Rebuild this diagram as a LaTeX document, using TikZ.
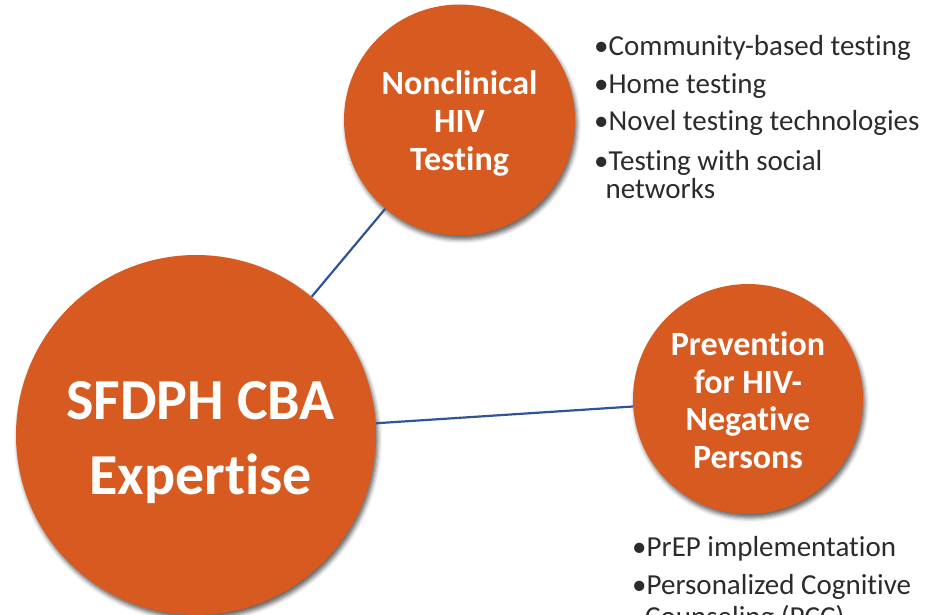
\documentclass[tikz,border=0pt]{standalone}
\usepackage{fontspec}
\setmainfont{Carlito}[Ligatures={NoCommon,NoContextual}]
\usetikzlibrary{shadows.blur}
\definecolor{hubfill}{HTML}{D75B20}
\definecolor{linkblue}{HTML}{2F5597}
\definecolor{bodytext}{HTML}{2B2B2B}
\begin{document}
\begin{tikzpicture}[x=1pt,y=-1pt,
  hub/.style={circle, fill=hubfill, inner sep=0pt,
    blur shadow={shadow xshift=2pt, shadow yshift=-4pt, shadow blur radius=4pt, shadow opacity=60}},
  hubtext/.style={anchor=north, inner sep=0pt, text=white, align=center},
  link/.style={draw=linkblue, line width=2.2pt},
  item/.style={anchor=base west, inner sep=0pt, text=bodytext, font=\fontsize{29}{32}\selectfont}]
\useasboundingbox (0,0) rectangle (926,615);

% the three topic circles
\node[hub, minimum size=360pt] (core) at (196,435) {};
\node[hub, minimum size=231pt] (nonclin) at (459.5,120) {};
\node[hub, minimum size=230pt] (prev) at (748,399) {};

% connectors from the central circle
\draw[link] (core) -- (nonclin);
\draw[link] (core) -- (prev);

% circle titles
\node[hubtext, font=\bfseries\fontsize{58}{75}\selectfont]
  (core-title) at (200.5,381.5) {SFDPH CBA\\Expertise};
\node[hubtext, font=\bfseries\fontsize{34}{38}\selectfont]
  (nonclin-title) at (459.5,70) {Nonclinical\\HIV\\Testing};
\node[hubtext, font=\bfseries\fontsize{34}{37.6}\selectfont]
  (prev-title) at (748,331.5) {Prevention\\for HIV-\\Negative\\Persons};

% bullet list beside the testing circle
\node[item] (t1) at (594,56) {\textbullet Community-based testing};
\node[item] (t2) at (594,93.3) {\textbullet Home testing};
\node[item] (t3) at (594,130.7) {\textbullet Novel testing technologies};
\node[item] (t4) at (594,170) {\textbullet Testing with social};
\node[item] (t5) at (605.5,198.3) {networks};

% bullet list below the prevention circle
\node[item] (p1) at (632,556.7) {\textbullet PrEP implementation};
\node[item] (p2) at (632,594) {\textbullet Personalized Cognitive};
\node[item] (p3) at (645,626) {Counseling (PCC)};
\end{tikzpicture}
\end{document}
